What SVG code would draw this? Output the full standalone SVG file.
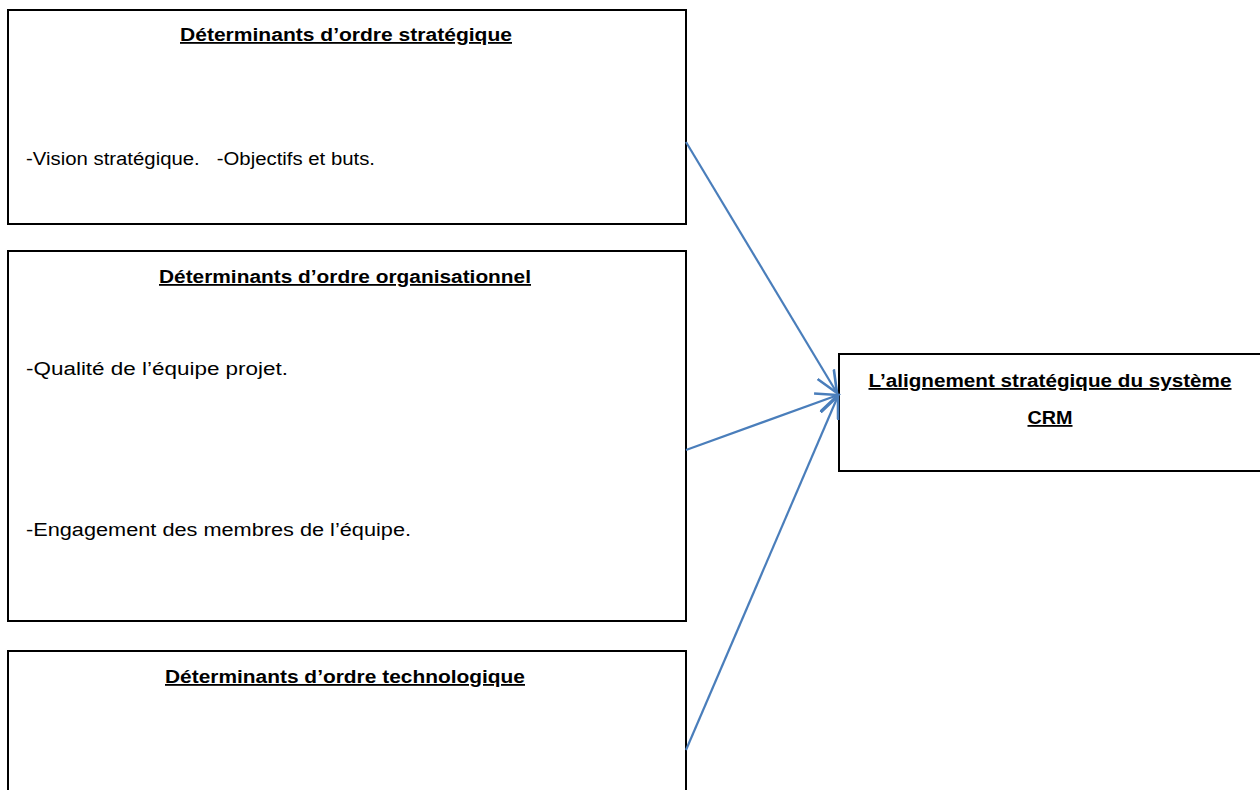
<svg xmlns="http://www.w3.org/2000/svg" width="1260" height="790" viewBox="0 0 1260 790">
<style>
.box{fill:#fff;stroke:#000;stroke-width:2}
.t{font-family:"Liberation Sans",Arial,sans-serif;font-size:18px;fill:#000}
.h{font-weight:bold;text-decoration:underline}
.c{fill:none;stroke:#4a7ebb;stroke-width:2.2}
</style>
<defs>
<marker id="ah" markerUnits="userSpaceOnUse" markerWidth="30" markerHeight="30" refX="22" refY="10" orient="auto" viewBox="0 0 30 20">
<path d="M0,0.5 L22,10 L0,19.5" fill="none" stroke="#4a7ebb" stroke-width="2.6"/>
</marker>
</defs>
<rect width="1260" height="790" fill="#fff"/>
<g id="strategique">
<rect class="box" x="8" y="10" width="678" height="214"/>
<text class="t h" x="346" y="41" text-anchor="middle" textLength="332" lengthAdjust="spacingAndGlyphs">Déterminants d’ordre stratégique</text>
<text class="t" x="26" y="165" textLength="349" lengthAdjust="spacingAndGlyphs" xml:space="preserve">-Vision stratégique.   -Objectifs et buts.</text>
</g>
<g id="organisationnel">
<rect class="box" x="8" y="251" width="678" height="370"/>
<text class="t h" x="345" y="283" text-anchor="middle" textLength="372" lengthAdjust="spacingAndGlyphs">Déterminants d’ordre organisationnel</text>
<text class="t" x="26" y="375" textLength="262" lengthAdjust="spacingAndGlyphs">-Qualité de l’équipe projet.</text>
<text class="t" x="26" y="536" textLength="385" lengthAdjust="spacingAndGlyphs">-Engagement des membres de l’équipe.</text>
</g>
<g id="technologique">
<rect class="box" x="8" y="651" width="678" height="160"/>
<text class="t h" x="345" y="683" text-anchor="middle" textLength="360" lengthAdjust="spacingAndGlyphs">Déterminants d’ordre technologique</text>
</g>
<g id="alignement">
<rect class="box" x="839" y="354" width="440" height="117"/>
<text class="t h" x="1050" y="387" text-anchor="middle" textLength="363" lengthAdjust="spacingAndGlyphs">L’alignement stratégique du système</text>
<text class="t h" x="1050" y="424" text-anchor="middle" textLength="45" lengthAdjust="spacingAndGlyphs">CRM</text>
</g>
<g id="connectors">
<line class="c" x1="686" y1="142" x2="837" y2="393" marker-end="url(#ah)"/>
<line class="c" x1="686" y1="450" x2="838" y2="395" marker-end="url(#ah)"/>
<line class="c" x1="686" y1="750" x2="838" y2="396" marker-end="url(#ah)"/>
</g>
</svg>
